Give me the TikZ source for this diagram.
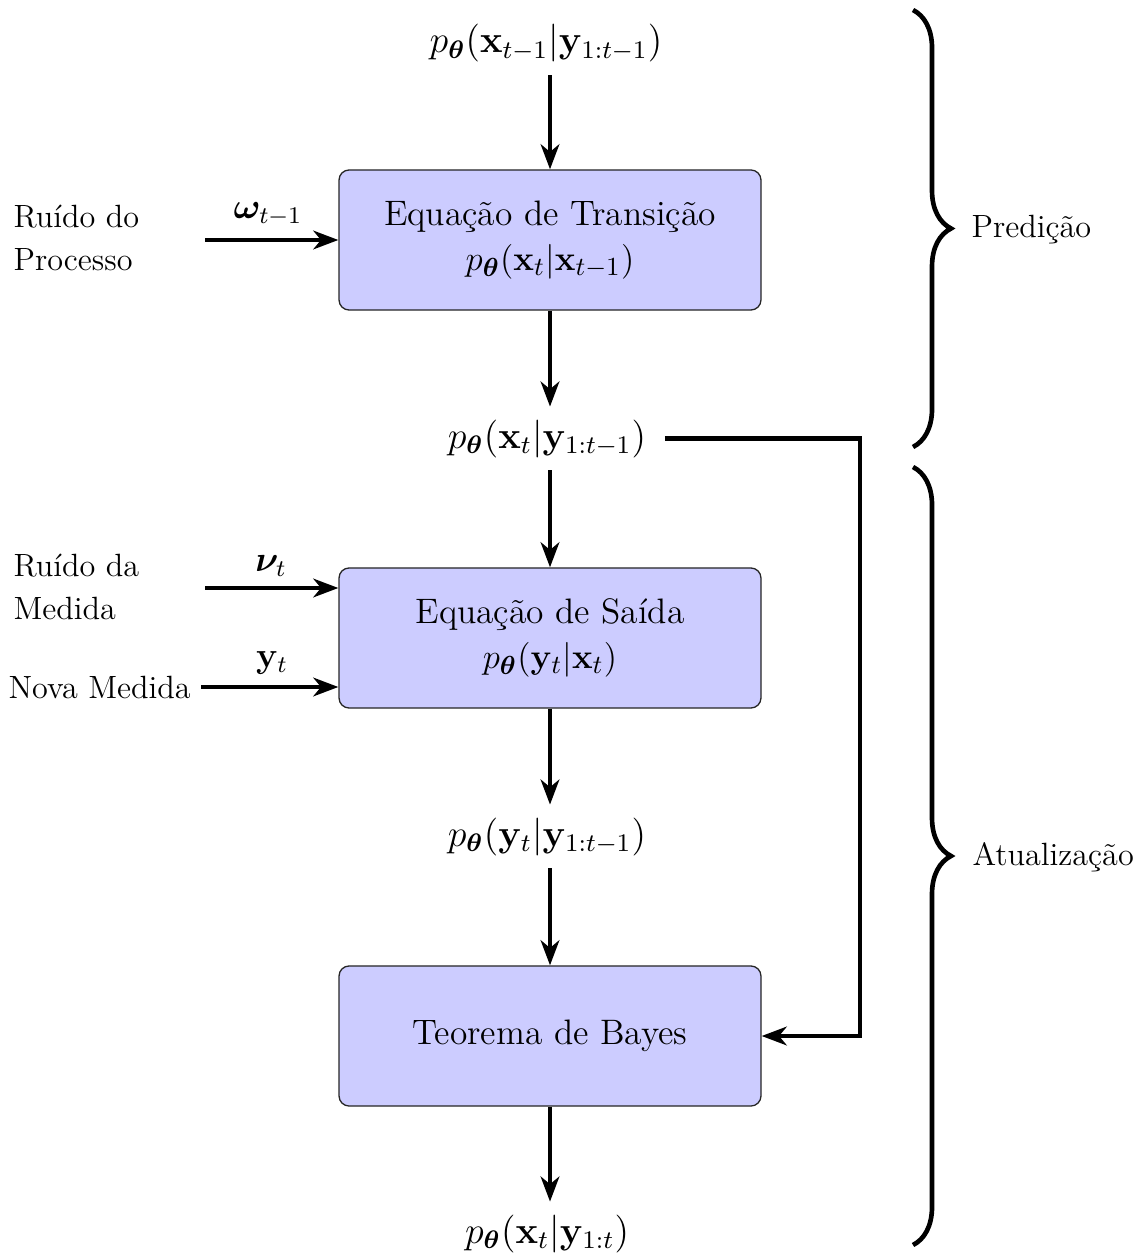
\documentclass[tikz,border=0pt]{standalone}
\usepackage{amsmath,bm}
\usetikzlibrary{arrows.meta,decorations.pathreplacing}
\definecolor{boxfill}{RGB}{204,204,255}
\begin{document}
\begin{tikzpicture}[x=0.3448pt,y=-0.3448pt,
  every node/.style={font=\fontsize{11.1}{14.8}\selectfont},
  box/.style={draw=black!85, fill=boxfill, rounded corners=3.5pt, minimum width=145.5pt, minimum height=48.3pt, align=center, font=\fontsize{12.2}{15.5}\selectfont, line width=0.45pt},
  prob/.style={inner sep=3.9pt, anchor=base, font=\fontsize{12}{15}\selectfont, scale=1.09, transform shape},
  mlab/.style={font=\fontsize{12}{15}\selectfont, scale=1.03, transform shape},
  arr/.style={line width=1.6pt, -{Stealth[length=8.6pt,width=6.4pt,inset=2.6pt]}},
  brc/.style={line width=1.6pt, decorate, decoration={brace, amplitude=13.1pt}},
  side/.style={align=left, inner sep=0pt, anchor=west}
]
\useasboundingbox (0,0) rectangle (1146,1256);

% main chain
\node[prob] (p1) at (546,53) {$p_{\bm{\theta}}(\mathbf{x}_{t-1}|\mathbf{y}_{1:t-1})$};
\node[box] (trans) at (550,240) {Equação de Transição\\$p_{\bm{\theta}}(\mathbf{x}_t|\mathbf{x}_{t-1})$};
\node[prob] (p2) at (547,448) {$p_{\bm{\theta}}(\mathbf{x}_t|\mathbf{y}_{1:t-1})$};
\node[box] (out) at (550,638) {Equação de Saída\\$p_{\bm{\theta}}(\mathbf{y}_t|\mathbf{x}_t)$};
\node[prob] (p3) at (547,846) {$p_{\bm{\theta}}(\mathbf{y}_t|\mathbf{y}_{1:t-1})$};
\node[box] (bayes) at (550,1036) {Teorema de Bayes};
\node[prob] (p4) at (547,1243) {$p_{\bm{\theta}}(\mathbf{x}_t|\mathbf{y}_{1:t})$};

\draw[arr] (p1.south -| trans.north) -- (trans.north);
\draw[arr] (trans.south) -- (trans.south |- p2.north);
\draw[arr] (p2.south -| out.north) -- (out.north);
\draw[arr] (out.south) -- (out.south |- p3.north);
\draw[arr] (p3.south -| bayes.north) -- (bayes.north);
\draw[arr] (bayes.south) -- (bayes.south |- p4.north);

% feedback
\coordinate (fbx) at (860,0);
\draw[arr, shorten <=2pt] (p2.east) -- (p2.east -| fbx) |- (bayes.east);

% left inputs
\node[side] (rp) at (13,238) {Ruído do\\Processo};
\coordinate (w0) at (205,240);
\draw[arr] (w0) -- (w0 -| trans.west);
\node[mlab] (wl) at (268,214) {$\bm{\omega}_{t-1}$};

\node[side] (rm) at (13,587) {Ruído da\\Medida};
\coordinate (n0) at (205,588);
\draw[arr] (n0) -- (n0 -| out.west);
\node[mlab] (nl) at (271,566) {$\bm{\nu}_t$};

\node[side] (nm) at (8,687) {Nova Medida};
\draw[arr, shorten <=3.5pt] (nm.east) -- (nm.east -| out.west);
\node[mlab] (yl) at (272,663) {$\mathbf{y}_t$};

% braces
\coordinate (b1a) at (913,10);
\coordinate (b1b) at (913,447);
\coordinate (b2a) at (913,467);
\coordinate (b2b) at (913,1245);
\draw[brc] (b1a) -- (b1b);
\draw[brc] (b2a) -- (b2b);
\node[side] (pred) at (971,230) {Predição};
\node[side] (atu) at (972,857) {Atualização};
\end{tikzpicture}
\end{document}
